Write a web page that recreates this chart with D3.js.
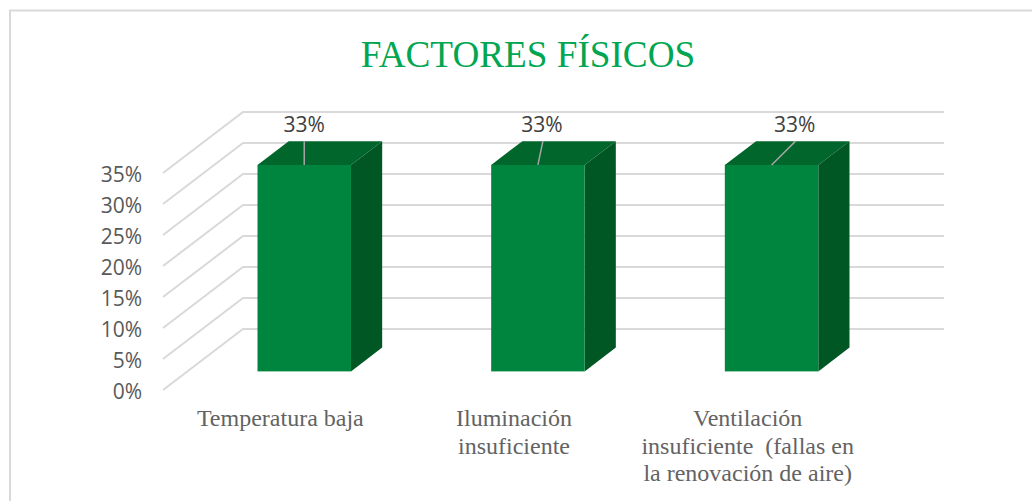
<!DOCTYPE html>
<html>
<head>
<meta charset="utf-8">
<script src="https://cdnjs.cloudflare.com/ajax/libs/d3/7.8.5/d3.min.js"></script>
<style>
  html, body { margin: 0; padding: 0; background: #fff; }
  svg { display: block; }
</style>
</head>
<body>
<svg class="chart"></svg>
<script>
const categories = ["Temperatura baja", "Iluminación insuficiente", "Ventilación insuficiente"];
const values = [33.3, 33.3, 33.3];
const yTicks = [0, 5, 10, 15, 20, 25, 30, 35];
const categoryLines = [
  ["Temperatura baja"],
  ["Iluminación", "insuficiente"],
  ["Ventilación", "insuficiente  (fallas en", "la renovación de aire)"]
];
const leaderEnds = [0, 5, 24];

const width = 1032,
  height = 501,
  depthX = 80,
  depthY = -61,
  barFront = 0.305,
  barBack = 0.695,
  serif = "'Liberation Serif', serif",
  sans = "'Open Sans', sans-serif";

const chart = d3.select(".chart")
  .attr("width", width)
  .attr("height", height);

// page border, left and top only
chart.append("path")
  .attr("d", "M10,501V10.5H1032")
  .attr("fill", "none")
  .attr("stroke", "#d9d9d9")
  .attr("stroke-width", 2);

chart.append("text")
  .attr("x", 528)
  .attr("y", 67)
  .attr("text-anchor", "middle")
  .attr("font-family", serif)
  .attr("font-size", 37.2)
  .attr("fill", "#00a651")
  .text("FACTORES FÍSICOS");

const y = d3.scaleLinear().domain([0, 35]).range([390, 173]);
const x = d3.scaleBand()
  .domain(categories)
  .range([163, 864])
  .paddingInner(0.6)
  .paddingOuter(0.3);

// gridlines: side wall, then back wall
chart.append("g").selectAll("path")
  .data(yTicks)
  .enter().append("path")
  .attr("d", d => `M${x.range()[0]},${y(d)}l${depthX},${depthY}H${x.range()[1] + depthX}`)
  .attr("fill", "none")
  .attr("stroke", "#d9d9d9")
  .attr("stroke-width", 2);

const yAxis = d3.axisLeft(y)
  .tickValues(yTicks)
  .tickFormat(d => d + "%")
  .tickSize(0);

const axisG = chart.append("g")
  .attr("transform", "translate(142,1.5)")
  .call(yAxis);
axisG.select(".domain").remove();
axisG.selectAll("text")
  .attr("x", 0)
  .attr("font-family", sans)
  .attr("font-size", 21)
  .attr("fill", "#595959");

const bar = chart.append("g").selectAll("g")
  .data(categories)
  .enter().append("g");

const offX = depthX * barFront,
  offY = depthY * barFront,
  sideX = depthX * (barBack - barFront),
  sideY = depthY * (barBack - barFront);

bar.append("path")
  .attr("d", (d, i) => {
    let left = x(d) + offX, top = y(values[i]) + offY, w = x.bandwidth();
    return `M${left},${top}l${sideX},${sideY}h${w}l${-sideX},${-sideY}Z`;
  })
  .attr("fill", "#00662b");

bar.append("path")
  .attr("d", (d, i) => {
    let right = x(d) + offX + x.bandwidth(), top = y(values[i]) + offY, bottom = y(0) + offY;
    return `M${right},${top}l${sideX},${sideY}V${bottom + sideY}l${-sideX},${-sideY}Z`;
  })
  .attr("fill", "#005724");

bar.append("rect")
  .attr("x", d => x(d) + offX)
  .attr("y", (d, i) => y(values[i]) + offY)
  .attr("width", x.bandwidth())
  .attr("height", (d, i) => y(0) - y(values[i]))
  .attr("fill", "#00853f");

// leader lines from the value label to the bar
bar.append("path")
  .attr("d", (d, i) => {
    let cx = x(d) + offX + x.bandwidth() / 2, top = y(values[i]) + offY;
    return `M${cx},${top}l${leaderEnds[i]},${sideY}`;
  })
  .attr("stroke", "#a6a6a6")
  .attr("stroke-width", 1.5)
  .attr("fill", "none");

bar.append("text")
  .attr("x", (d, i) => x(d) + offX + x.bandwidth() / 2 + leaderEnds[i] - (i === 0 ? 0 : 1))
  .attr("y", 132)
  .attr("text-anchor", "middle")
  .attr("font-family", sans)
  .attr("font-size", 21)
  .attr("fill", "#404040")
  .text((d, i) => d3.format(".0f")(values[i]) + "%");

const label = chart.append("g").selectAll("text")
  .data(categories)
  .enter().append("text")
  .attr("text-anchor", "middle")
  .attr("font-family", serif)
  .attr("font-size", 24)
  .attr("fill", "#636363");

label.selectAll("tspan")
  .data((d, i) => categoryLines[i].map(t => ({ t, cx: x(d) + x.bandwidth() / 2 + 0.5 })))
  .enter().append("tspan")
  .attr("x", d => d.cx)
  .attr("y", (d, i) => 426 + i * 27.5)
  .style("white-space", "pre")
  .text(d => d.t);
</script>
</body>
</html>
